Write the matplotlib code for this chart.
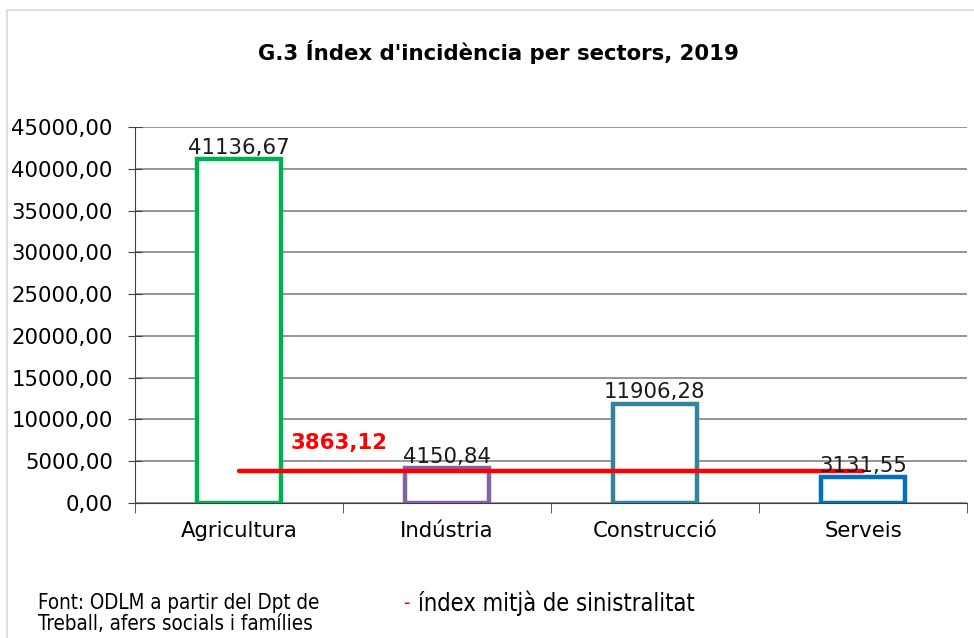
import matplotlib.pyplot as plt
from matplotlib.patches import Rectangle

sectors = ['Agricultura', 'Indústria', 'Construcció', 'Serveis']
values = [41136.67, 4150.84, 11906.28, 3131.55]
edge_colors = ['#00B050', '#8064A2', '#31849B', '#0070C0']
mean_index = 3863.12
yticks = list(range(0, 45001, 5000))


def fmt(v):
    return f'{v:.2f}'.replace('.', ',')


def main():
    plt.rcParams['font.family'] = ['DejaVu Sans']
    fig = plt.figure(figsize=(9.74, 6.38), dpi=100)
    ax = fig.add_axes([135 / 974, 135 / 638, 832 / 974, 376 / 638])

    # outer frame of the chart
    fig.patches.append(Rectangle((7 / 974, -0.01), 1.0, (638 - 10) / 638 + 0.01,
                                 transform=fig.transFigure, fill=False,
                                 edgecolor='#d9d9d9', linewidth=1.2))

    x = range(len(sectors))
    ax.bar(x, values, width=0.4, facecolor='white', edgecolor=edge_colors,
           linewidth=3.2, zorder=3)
    for i, v in enumerate(values):
        ax.text(i, v + 150, fmt(v), ha='center', va='bottom', fontsize=15.3,
                color='#1a1a1a', zorder=5)

    ax.plot([0, len(sectors) - 1], [mean_index, mean_index], color='#FF0000',
            linewidth=3.2, solid_capstyle='round', zorder=4)
    ax.text(0.25, 7180, fmt(mean_index), color='#FF0000',
            fontsize=15.3, fontweight='bold', ha='left', va='center', zorder=5)

    ax.set_xlim(-0.5, len(sectors) - 0.5)
    ax.set_ylim(0, 45000)
    ax.set_yticks(yticks)
    ax.set_yticklabels([fmt(t) for t in yticks], fontsize=15.3)
    ax.set_xticks(list(x))
    ax.set_xticklabels(sectors, fontsize=15.3)
    ax.tick_params(axis='x', length=0, pad=13)
    ax.set_xticks([i + 0.5 for i in range(-1, len(sectors))], minor=True)
    ax.tick_params(axis='x', which='minor', length=7, direction='out',
                   color='#404040')
    ax.tick_params(axis='y', length=10, direction='inout', color='#404040',
                   pad=11)
    ax.grid(axis='y', color='#8c8c8c', linewidth=1.3, zorder=0)
    for side in ['top', 'right']:
        ax.spines[side].set_visible(False)
    ax.spines['left'].set_color('#404040')
    ax.spines['bottom'].set_color('#404040')

    fig.text(498 / 974, 1 - 52 / 638, "G.3 Índex d'incidència per sectors, 2019",
             ha='center', va='center', fontsize=15.3, fontweight='bold')
    fig.text(38 / 974, 1 - 603 / 638, 'Font: ODLM a partir del Dpt de',
             ha='left', va='center', fontsize=14.8, fontstretch='condensed')
    fig.text(38 / 974, 1 - 624 / 638, 'Treball, afers socials i famílies',
             ha='left', va='center', fontsize=14.8, fontstretch='condensed')
    fig.text(403 / 974, 1 - 603 / 638, '-', color='#FF0000',
             ha='left', va='center', fontsize=14, fontstretch='condensed')
    fig.text(418 / 974, 1 - 603 / 638, 'índex mitjà de sinistralitat',
             ha='left', va='center', fontsize=17, fontstretch='condensed')

    fig.savefig('out.png', dpi=100)


if __name__ == '__main__':
    main()
